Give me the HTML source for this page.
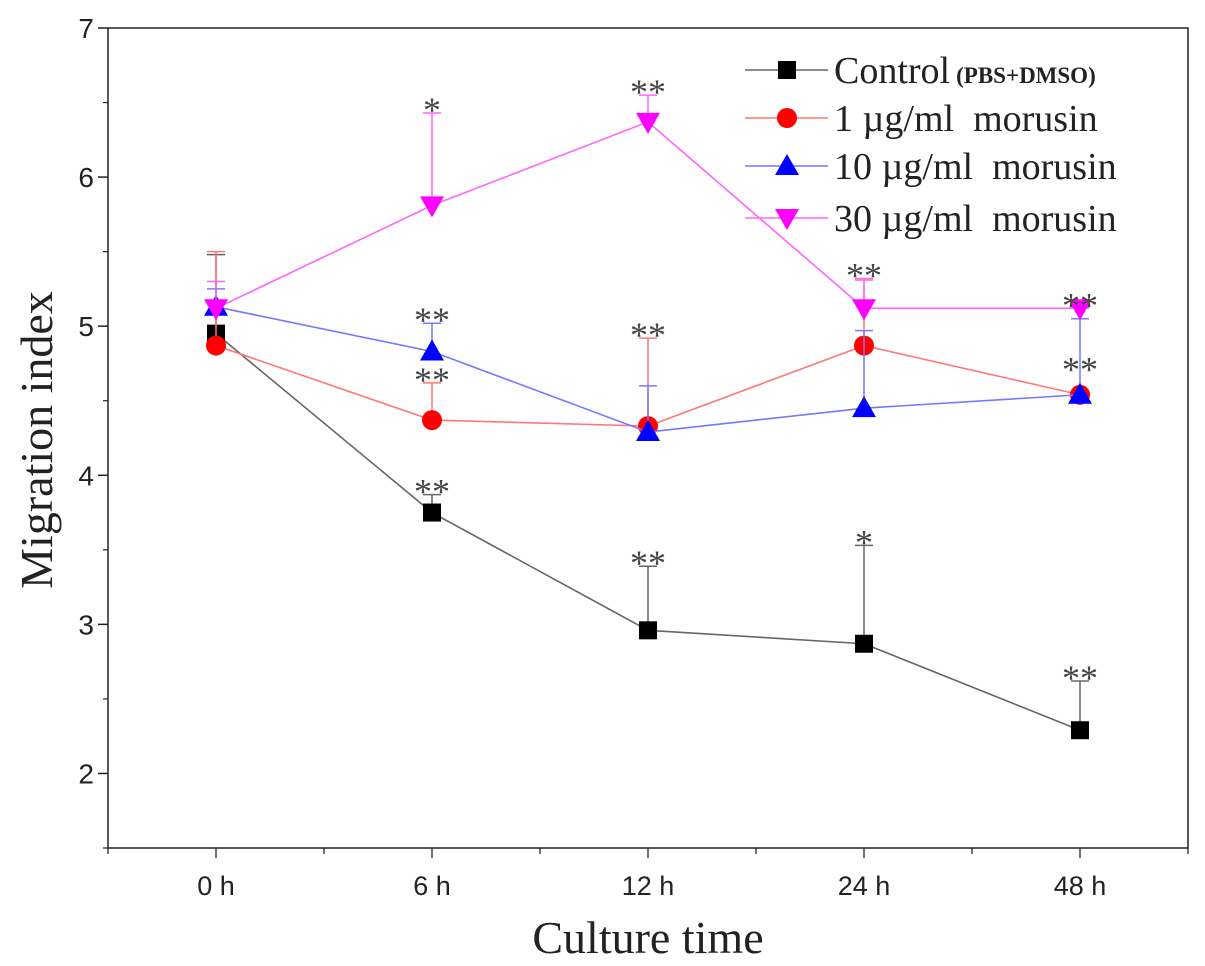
<!DOCTYPE html>
<html><head><meta charset="utf-8"><style>
body{margin:0;background:#fff}
svg{display:block}
text{white-space:pre}
</style></head><body>
<svg id="chart" width="1205" height="966" xmlns="http://www.w3.org/2000/svg"></svg>
<script>
const categories=["0 h","6 h","12 h","24 h","48 h"];
const yTicks=[2,3,4,5,6,7];
const controlVals=[4.95,3.75,2.96,2.87,2.29];
const controlErr=[5.48,3.87,3.39,3.53,2.62];
const m1Vals=[4.87,4.37,4.33,4.87,4.54];
const m1Err=[5.50,4.62,4.92,5.31,4.55];
const m10Vals=[5.13,4.83,4.29,4.45,4.54];
const m10Err=[5.25,5.02,4.60,4.97,5.05];
const m30Vals=[5.12,5.81,6.37,5.12,5.12];
const m30Err=[5.30,6.43,6.55,5.32,5.12];
const controlStars=["","**","**","*","**"];
const m1Stars=["","**","**","",""];
const m10Stars=["","**","","","**"];
const m30Stars=["","*","**","**","**"];
const m10StarAt=[0,5.02,0,0,4.69];
const NS="http://www.w3.org/2000/svg";
const svg=document.getElementById('chart');
const L=108,R=1188,T=28,B=848;
const x=i=>L+(i+0.5)*(R-L)/categories.length;
const y=v=>T+(7-v)*(B-T)/5.5;
function el(tag,attrs,parent){const e=document.createElementNS(NS,tag);for(const k in attrs)e.setAttribute(k,attrs[k]);(parent||svg).appendChild(e);return e;}
const frame=el('rect',{x:L,y:T,width:R-L,height:B-T,fill:'none',stroke:'#222','stroke-width':1.5});


yTicks.forEach(v=>{
  const t=el('line',{x1:L-10,x2:L,y1:y(v),y2:y(v),stroke:'#222','stroke-width':1.5});
  
  
  const tx=el('text',{x:L-14,y:y(v)+10,'text-anchor':'end','font-family':'Liberation Sans, sans-serif','font-size':28,fill:'#222'});
  tx.textContent=v;
  
  
});
for(let v=1.5;v<7;v+=1){el('line',{x1:L-5,x2:L,y1:y(v),y2:y(v),stroke:'#222','stroke-width':1.2});}
for(let i=-0.5;i<=4.5;i+=0.5){
  const major=Number.isInteger(i);
  el('line',{x1:x(i),x2:x(i),y1:B,y2:B+(major?10:6),stroke:'#222','stroke-width':1.3});
}
categories.forEach((c,i)=>{
  const tx=el('text',{x:x(i),y:B+47,'text-anchor':'middle','font-family':'Liberation Sans, sans-serif','font-size':27,fill:'#222'});
  tx.textContent=c;
  
  
});
const xt=el('text',{x:648,y:953,'text-anchor':'middle','font-family':'Liberation Serif, serif','font-size':46,fill:'#222'});
xt.textContent='Culture time';


const yt=el('text',{x:0,y:0,'text-anchor':'middle','font-family':'Liberation Serif, serif','font-size':46,fill:'#222',transform:'translate(52,440) rotate(-90)'});
yt.textContent='Migration index';


const series=[
 {name:'control',vals:controlVals,err:controlErr,stars:controlStars,line:'#666',color:'#000',mk:'square'},
 {name:'1ug',vals:m1Vals,err:m1Err,stars:m1Stars,line:'#f77',color:'#f00',mk:'circle'},
 {name:'10ug',vals:m10Vals,err:m10Err,stars:m10Stars,starAt:m10StarAt,line:'#77f',color:'#00f',mk:'up'},
 {name:'30ug',vals:m30Vals,err:m30Err,stars:m30Stars,line:'#f6f',color:'#f0f',mk:'down'}];
function marker(type,cx,cy,color,g){
  let m;
  if(type==='square')m=el('rect',{x:cx-9,y:cy-9,width:18,height:18,fill:color},g);
  else if(type==='circle')m=el('circle',{cx:cx,cy:cy,r:10,fill:color},g);
  else if(type==='up')m=el('polygon',{points:`${cx},${cy-12} ${cx-12},${cy+9} ${cx+12},${cy+9}`,fill:color},g);
  else m=el('polygon',{points:`${cx},${cy+12} ${cx-12},${cy-9} ${cx+12},${cy-9}`,fill:color},g);
  return m;
}
series.forEach(s=>{
  const g=el('g',{});
  
  
  s.vals.forEach((v,i)=>{
    el('line',{x1:x(i),x2:x(i),y1:y(v),y2:y(s.err[i]),stroke:s.line,'stroke-width':1.5},g);
    el('line',{x1:x(i)-9,x2:x(i)+9,y1:y(s.err[i]),y2:y(s.err[i]),stroke:s.line,'stroke-width':1.5},g);
  });
  const pl=el('polyline',{points:s.vals.map((v,i)=>x(i)+','+y(v)).join(' '),fill:'none',stroke:s.line,'stroke-width':1.6},g);
  
  
  s.vals.forEach((v,i)=>{
    const m=marker(s.mk,x(i),y(v),s.color,g);
    
    
    if(s.stars[i]){
      const at=(s.starAt&&s.starAt[i])?s.starAt[i]:s.err[i];
      const st=el('text',{x:x(i),y:y(at)+9,'text-anchor':'middle','font-family':'Liberation Serif, serif','font-size':36,fill:'#444'},g);
      st.textContent=s.stars[i];
      
      
    }
  });
});
const labels=['Control','1 \u00b5g/ml  morusin','10 \u00b5g/ml  morusin','30 \u00b5g/ml  morusin'];
const ly=[70,118,166,218];
series.forEach((s,k)=>{
  const g=el('g',{});
  
  
  el('line',{x1:745,x2:828,y1:ly[k],y2:ly[k],stroke:s.line,'stroke-width':1.6},g);
  marker(s.mk,787,ly[k],s.color,g);
  const t=el('text',{x:834,y:ly[k]+13,'font-family':'Liberation Serif, serif','font-size':38,fill:'#222'},g);
  t.textContent=labels[k];
  if(k===0){const ts=el('tspan',{'font-size':23,'font-weight':'bold',dx:6},t);ts.textContent='(PBS+DMSO)';}
});
</script>
</body></html>
